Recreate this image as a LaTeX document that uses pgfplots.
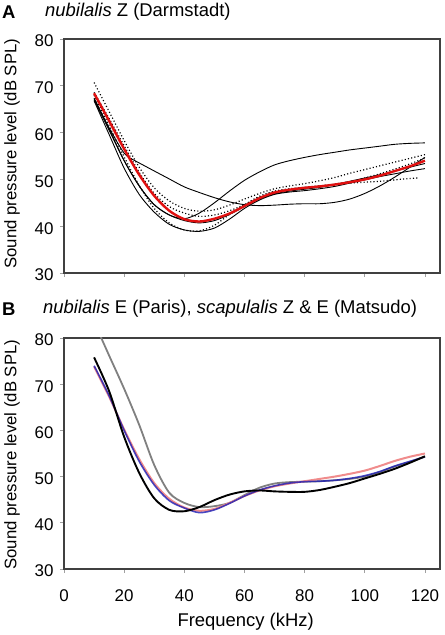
\documentclass[border=0pt]{standalone}
\usepackage{fontspec}
\setmainfont{Liberation Sans}
\usepackage{pgfplots}
\pgfplotsset{compat=1.18}
\definecolor{frame}{HTML}{404040}
\definecolor{tickc}{HTML}{A0A0A0}
\definecolor{myred}{HTML}{E01010}
\definecolor{mypink}{HTML}{F08C8C}
\definecolor{myblue}{HTML}{1C1CB4}
\definecolor{mygray}{HTML}{808080}
\pgfplotsset{
  panel/.style={
    scale only axis, width=376bp, anchor=south west,
    xmin=0, xmax=125, ymin=30, ymax=80,
    xtick={0,20,...,120}, ytick={30,40,...,80},
    tick pos=left, tick align=outside,
    major tick length=4bp,
    axis line style={frame, line width=1.8bp},
    every tick/.style={tickc, line width=0.7bp},
    /pgf/number format/assume math mode=true,
    tick label style={font=\fontsize{17}{20}\selectfont},
    xticklabel style={yshift=-13bp},
    yticklabel style={xshift=-3bp, yshift=-2bp},
    ylabel style={font=\fontsize{16.8}{20}\selectfont, anchor=center},
    xlabel style={font=\fontsize{18.5}{22}\selectfont, anchor=center},
  },
  sol/.style={black, line width=0.9bp, smooth, no marks},
  dot/.style={black, line width=1.2bp, dash pattern=on 1.1bp off 2.2bp, smooth, no marks},
}
\begin{document}
\begin{tikzpicture}
\useasboundingbox (0,0) rectangle (445bp,635bp);
\node[anchor=west, inner sep=0, font=\bfseries\fontsize{18.5}{22}\selectfont] at (2bp,623bp) {A};
\node[anchor=west, inner sep=0, font=\fontsize{18.5}{22}\selectfont] at (45bp,623bp) {\textit{nubilalis} Z (Darmstadt)};
\node[anchor=west, inner sep=0, font=\bfseries\fontsize{18.5}{22}\selectfont] at (2bp,326bp) {B};
\node[anchor=west, inner sep=0, font=\fontsize{18.5}{22}\selectfont] at (43bp,326bp) {\textit{nubilalis} E (Paris), \textit{scapulalis} Z \& E (Matsudo)};

\begin{axis}[panel, at={(64bp,362bp)}, height=234bp,
  xticklabels={},
  ylabel={Sound pressure level (dB SPL)},
  ylabel style={at={(axis description cs:-0.1383,0.51)}},
]
\addplot[sol] coordinates {(10,67.0)(15,60.5)(20,54.0)(25,48.6)(30,44.6)(35,42.4)(40,41.6)(45,42.8)(50,45.0)(55,47.5)(60,49.8)(65,51.6)(70,53.1)(75,54.0)(80,54.7)(85,55.3)(90,55.8)(95,56.3)(100,56.7)(105,57.1)(110,57.5)(115,57.7)(120,57.8)};
\addplot[sol] coordinates {(10,67.2)(15,61.0)(20,55.6)(23,54.2)};
\addplot[sol] coordinates {(23,54.2)(30,51.8)(35,50.1)(40,48.4)(45,47.2)(50,46.1)(55,45.2)(60,44.6)(65,44.4)(70,44.5)(75,44.7)(80,44.8)(85,44.8)(90,45.1)(95,45.8)(100,47.0)(105,48.6)(110,50.5)(115,52.6)(120,54.7)};
\addplot[sol] coordinates {(10,66.8)(15,59.6)(20,52.4)(25,46.8)(30,43.0)(35,40.4)(40,39.2)(45,38.9)(50,39.6)(55,41.5)(60,43.8)(65,45.6)(70,46.8)(75,47.3)(80,47.6)(85,48.0)(90,48.5)(95,49.2)(100,49.9)(105,50.6)(110,51.2)(115,51.8)(120,52.3)};
\addplot[sol] coordinates {(10,67.4)(15,60.8)(20,54.0)(25,48.6)(30,44.6)(35,42.4)(40,41.2)(45,40.7)(50,41.2)(55,42.5)(60,44.2)(65,45.8)(70,46.9)(75,47.5)(80,47.9)(85,48.3)(90,48.9)(95,49.6)(100,50.3)(105,51.0)(110,51.8)(115,52.6)(120,53.4)};
\addplot[dot] coordinates {(10,70.7)(15,64.5)(20,58.3)(25,52.6)(30,48.2)(35,45.4)(40,43.8)(45,43.2)(50,43.5)(55,44.5)(60,45.8)(65,47.0)(70,48.0)(75,48.6)(80,49.1)(85,49.7)(90,50.4)(95,51.3)(100,52.1)(105,52.9)(110,53.7)(115,54.5)(120,55.3)};
\addplot[dot] coordinates {(10,68.6)(15,63.0)(20,57.2)(25,51.5)(30,47.0)(35,44.2)(40,42.8)(45,42.1)(50,42.4)(55,43.3)(60,44.6)(65,46.2)(70,47.3)(75,47.9)(80,48.3)(85,48.6)(90,49.0)(95,49.5)(100,50.3)(105,51.2)(110,52.2)(115,53.3)(120,54.6)};
\addplot[dot] coordinates {(10,68.0)(15,61.5)(20,54.8)(25,48.7)(30,43.8)(35,40.7)(40,39.2)(45,39.0)(50,40.2)(55,42.5)(60,44.6)(65,46.4)(70,47.5)(75,48.0)(80,48.3)(85,48.6)(90,48.9)(95,49.2)(100,49.4)(105,49.6)(110,49.9)(115,50.2)(118,50.3)};
\addplot[myred, line width=2.4bp, smooth, no marks] coordinates {(10,68.4)(15,62.5)(20,56.5)(25,51.0)(30,46.5)(35,43.3)(40,41.5)(45,41.0)(50,41.6)(55,42.7)(60,44.3)(65,46.0)(70,47.2)(75,47.8)(80,48.2)(85,48.5)(90,48.9)(95,49.4)(100,50.0)(105,50.8)(110,51.8)(115,52.8)(120,54.0)};
\end{axis}

\begin{axis}[panel, at={(64bp,66bp)}, height=231bp,
  ylabel={Sound pressure level (dB SPL)},
  ylabel style={at={(axis description cs:-0.1383,0.495)}},
  xlabel={Frequency (kHz)},
  xlabel style={at={(axis description cs:0.483,-0.228)}},
]
\addplot[mygray, line width=1.8bp, smooth, no marks] coordinates {(10,83.5)(15,76.2)(20,69.0)(25,61.2)(30,52.5)(35,46.5)(40,44.3)(45,43.4)(50,43.6)(55,44.3)(60,46.0)(65,47.6)(70,48.5)(75,48.8)(80,48.9)(85,49.0)(90,49.2)(95,49.5)(100,50.0)(105,51.0)(110,52.2)(115,53.2)(120,54.3)};
\addplot[mypink, line width=2.0bp, smooth, no marks] coordinates {(10,73.8)(15,67.3)(20,60.2)(25,53.8)(30,48.6)(35,45.2)(40,43.3)(45,42.6)(50,43.0)(55,44.3)(60,45.8)(65,47.0)(70,47.9)(75,48.5)(80,49.0)(85,49.5)(90,50.0)(95,50.6)(100,51.3)(105,52.3)(110,53.4)(115,54.3)(120,55.0)};
\addplot[myblue, line width=1.6bp, opacity=0.8, smooth, no marks] coordinates {(10,74.0)(15,67.5)(20,60.0)(25,53.3)(30,48.2)(35,44.8)(40,43.2)(45,42.2)(50,42.8)(55,44.2)(60,45.8)(65,47.1)(70,48.0)(75,48.6)(80,48.9)(85,49.0)(90,49.2)(95,49.6)(100,50.2)(105,51.1)(110,52.3)(115,53.3)(120,54.3)};
\addplot[black, line width=1.9bp, smooth, no marks] coordinates {(10,75.8)(15,68.5)(20,58.6)(25,50.8)(30,45.3)(35,42.8)(40,42.5)(45,43.4)(50,44.9)(55,46.1)(60,46.8)(65,47.0)(70,46.8)(75,46.7)(80,46.7)(85,47.1)(90,47.8)(95,48.6)(100,49.6)(105,50.6)(110,51.7)(115,53.0)(120,54.4)};
\end{axis}
\end{tikzpicture}
\end{document}
